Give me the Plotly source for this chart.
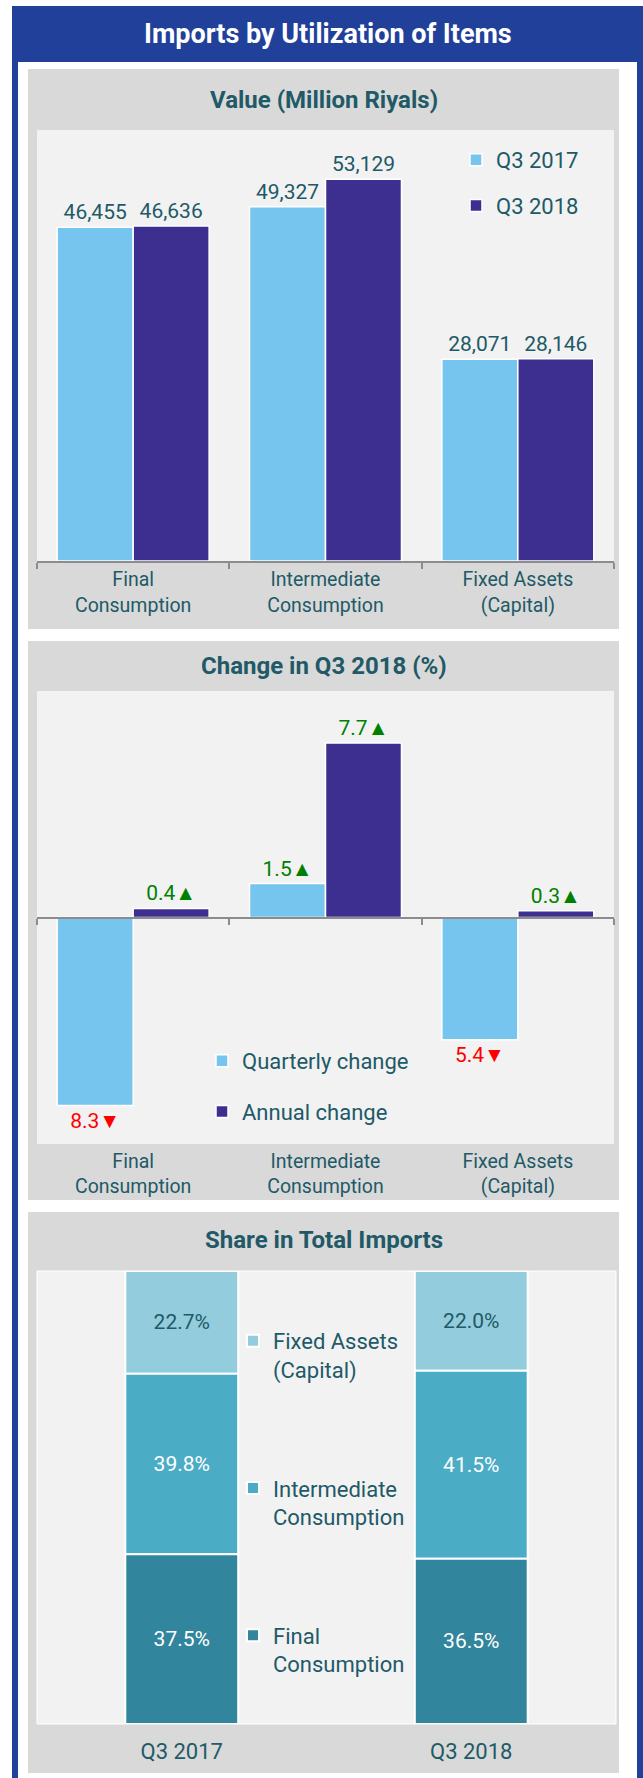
import plotly.graph_objects as go

W, H = 643, 1778

# data
categories = ["Final<br>Consumption", "Intermediate<br>Consumption", "Fixed Assets<br>(Capital)"]
value_q3_2017 = [46455, 49327, 28071]
value_q3_2018 = [46636, 53129, 28146]

quarterly_change = [-8.3, 1.5, -5.4]
annual_change = [0.4, 7.7, 0.3]

share_periods = ["Q3 2017", "Q3 2018"]
share_final = [37.5, 36.5]
share_intermediate = [39.8, 41.5]
share_fixed = [22.7, 22.0]

TEXT = "#215967"
LIGHT = "#75C5EE"
DARK = "#3C2F8F"
FONT = "Roboto"


def xd(a, b):
    return [a / W, b / W]


def yd(top, bottom):
    return [1 - bottom / H, 1 - top / H]


def rect(x0, y0, x1, y1, color, line=None):
    return dict(type="rect", xref="paper", yref="paper", layer="below",
                x0=x0 / W, x1=x1 / W, y0=1 - y1 / H, y1=1 - y0 / H,
                fillcolor=color, line=line or dict(width=0))


def change_text(v):
    return "{}{}".format(abs(v), "▲" if v > 0 else "▼")


def change_color(v):
    return "#008000" if v > 0 else "#FF0000"


fig = go.Figure()

# panel 1: values
for vals, name, color, grp in [(value_q3_2017, "Q3 2017", LIGHT, "a"),
                               (value_q3_2018, "Q3 2018", DARK, "b")]:
    fig.add_trace(go.Bar(
        x=categories, y=vals, name=name,
        marker=dict(color=color, line=dict(color="white", width=1.5)),
        text=["{:,}".format(v) for v in vals], textposition="outside",
        textfont=dict(color=TEXT, size=21), cliponaxis=False,
        xaxis="x", yaxis="y", legend="legend", legendgroup=grp, offsetgroup=grp
    ))

# panel 2: change
for vals, name, color, grp in [(quarterly_change, "Quarterly change", LIGHT, "a"),
                               (annual_change, "Annual change", DARK, "b")]:
    fig.add_trace(go.Bar(
        x=categories, y=vals, name=name,
        marker=dict(color=color, line=dict(color="white", width=1.5)),
        text=[change_text(v) for v in vals], textposition="outside",
        textfont=dict(color=[change_color(v) for v in vals], size=21),
        cliponaxis=False, xaxis="x2", yaxis="y2", legend="legend2",
        legendgroup=grp + "2", offsetgroup=grp
    ))

# panel 3: share (stacked through base, top series first for the legend)
base_fixed = [f + i for f, i in zip(share_final, share_intermediate)]
for vals, base, name, color, tcolor, grp in [
    (share_fixed, base_fixed, "Fixed Assets<br>(Capital)", "#93CDDD", TEXT, "g"),
    (share_intermediate, share_final, "Intermediate<br>Consumption", "#4BACC6", "white", "f"),
    (share_final, [0, 0], "Final<br>Consumption", "#31859C", "white", "e"),
]:
    fig.add_trace(go.Bar(
        x=share_periods, y=vals, base=base, name=name, width=0.39,
        marker=dict(color=color, line=dict(color="white", width=2)),
        text=["{:.1f}%".format(v) for v in vals], textposition="inside",
        insidetextanchor="middle", textangle=0,
        textfont=dict(color=tcolor, size=21),
        xaxis="x3", yaxis="y3", legend="legend3", legendgroup=grp, offsetgroup="s"
    ))

shapes = [
    rect(12, 6, W, H, "#21409A"),
    rect(18, 62, 637, H, "white"),
    rect(28, 69, 619, 629, "#D9D9D9"),
    rect(28, 641, 619, 1200, "#D9D9D9"),
    rect(28, 1212, 619, 1773, "#D9D9D9"),
    rect(37, 130, 614, 561, "#F2F2F2"),
    rect(37, 691, 614, 1144, "#F2F2F2"),
    rect(37, 1271, 616, 1724, "#F2F2F2", dict(color="white", width=1)),
]

annotations = [
    dict(text="<b>Imports by Utilization of Items</b>", x=0.5 * (12 + W) / W, y=1 - 34 / H,
         font=dict(color="white", size=27)),
    dict(text="<b>Value (Million Riyals)</b>", x=0.5 * (28 + 619) / W, y=1 - 100 / H,
         font=dict(color=TEXT, size=24)),
    dict(text="<b>Change in Q3 2018 (%)</b>", x=0.5 * (28 + 619) / W, y=1 - 666 / H,
         font=dict(color=TEXT, size=24)),
    dict(text="<b>Share in Total Imports</b>", x=0.5 * (28 + 619) / W, y=1 - 1240 / H,
         font=dict(color=TEXT, size=24)),
]
for a in annotations:
    a.update(xref="paper", yref="paper", showarrow=False, xanchor="center", yanchor="middle")

axis_common = dict(type="category", tickfont=dict(color=TEXT, size=19.5), fixedrange=True,
                   showgrid=False, zeroline=False)
yaxis_common = dict(showticklabels=False, fixedrange=True, showgrid=False, zeroline=False)
legend_common = dict(xanchor="left", yanchor="top", bgcolor="rgba(0,0,0,0)",
                     font=dict(size=22, color=TEXT), itemclick=False, itemdoubleclick=False)

fig.update_layout(
    width=W, height=H, autosize=False,
    margin=dict(l=0, r=0, t=0, b=0),
    paper_bgcolor="white", plot_bgcolor="rgba(0,0,0,0)",
    font=dict(family=FONT, color=TEXT),
    barmode="group", bargap=0.21, bargroupgap=0,
    shapes=shapes, annotations=annotations,
    xaxis=dict(domain=xd(37, 614), anchor="y", showline=True, linecolor="#8C8C8C", linewidth=2,
               ticks="outside", tickson="boundaries", ticklen=6, tickcolor="#8C8C8C", tickwidth=2,
               **axis_common),
    yaxis=dict(domain=yd(130, 561), anchor="x", range=[0, 60000], **yaxis_common),
    xaxis2=dict(domain=xd(37, 614), anchor="free", position=1 - 917.5 / H, showline=True,
                linecolor="#8C8C8C", linewidth=2, ticks="outside", tickson="boundaries",
                ticklen=6, tickcolor="#8C8C8C", tickwidth=2, ticklabelstandoff=226,
                **axis_common),
    yaxis2=dict(domain=yd(691, 1144), anchor="x2", range=[-10, 10], **yaxis_common),
    xaxis3=dict(domain=xd(37, 616), anchor="y3", showline=False, ticks="", ticklabelstandoff=12,
                **axis_common),
    yaxis3=dict(domain=yd(1271, 1724), anchor="x3", range=[0, 100], **yaxis_common),
    legend=dict(x=456 / W, y=1 - 139 / H, tracegroupgap=14, **legend_common),
    legend2=dict(x=202 / W, y=1 - 1040 / H, tracegroupgap=19, **legend_common),
    legend3=dict(x=233 / W, y=1 - 1320 / H, tracegroupgap=87, valign="top", **legend_common),
)
fig.update_layout(xaxis3_tickfont_size=22)

fig.write_html("out.html", config={"displayModeBar": False},
               post_script="document.body.style.margin='0';")
